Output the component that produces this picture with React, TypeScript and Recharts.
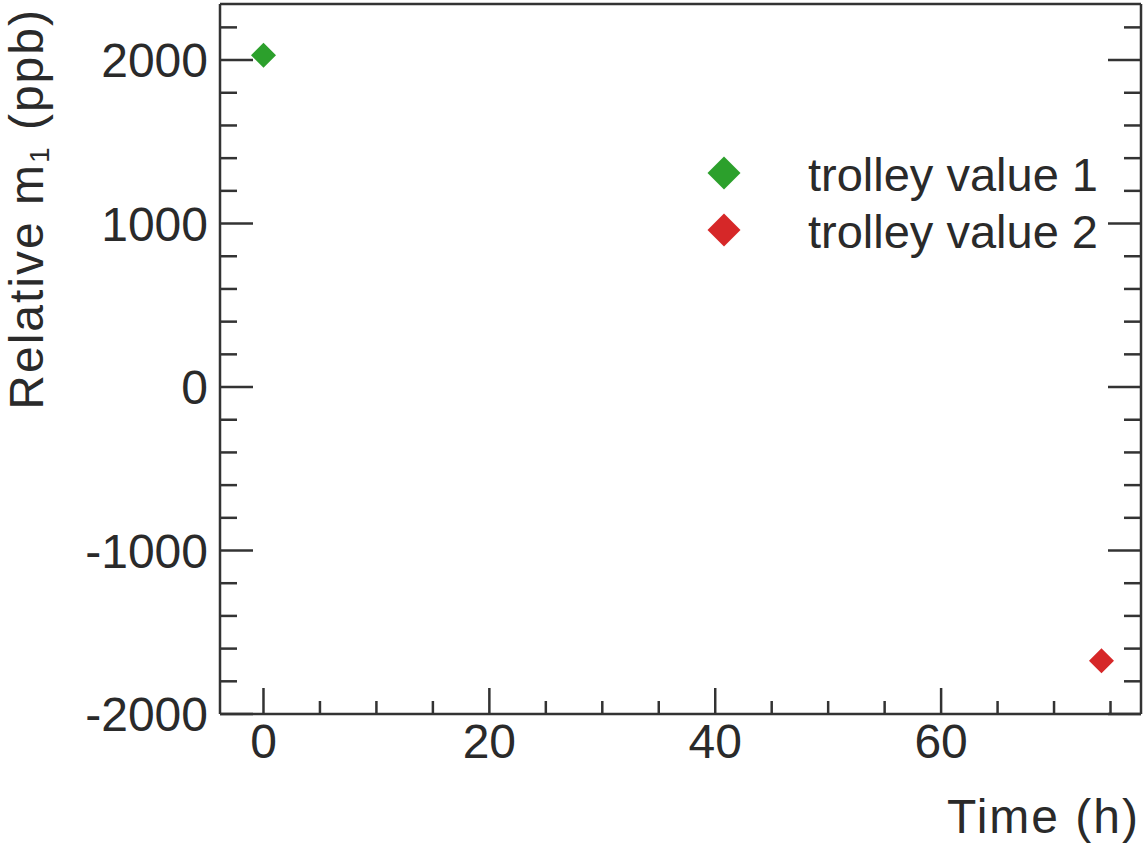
import React from 'react';
import { ScatterChart, Scatter, XAxis, YAxis } from 'recharts';

// measurements: time (h) and relative m1 (ppb)
const TROLLEY_1_TIME = [0];
const TROLLEY_1_M1 = [2030];
const TROLLEY_2_TIME = [74.2];
const TROLLEY_2_M1 = [-1675];

const SERIES_NAMES = ['trolley value 1', 'trolley value 2'];

const X_TICKS = [0, 5, 10, 15, 20, 25, 30, 35, 40, 45, 50, 55, 60, 65, 70, 75];
const X_LABELS = [0, 20, 40, 60];
const Y_TICKS = [
  -2000, -1800, -1600, -1400, -1200, -1000, -800, -600, -400, -200,
  0, 200, 400, 600, 800, 1000, 1200, 1400, 1600, 1800, 2000, 2200,
];
const Y_LABELS = [-2000, -1000, 0, 1000, 2000];

const X_DOMAIN = [-3.85, 77.7];
const Y_DOMAIN = [-2000, 2343];

const GREEN = '#2ca02c';
const RED = '#d62728';
const INK = '#333333';
const TEXT = '#2a2a2a';
const FONT = '"Liberation Sans", Arial, Helvetica, sans-serif';
const TICK_FONT = 48;
const TITLE_FONT = 48;

const trolley1 = TROLLEY_1_TIME.map((t, i) => ({ t, m1: TROLLEY_1_M1[i] }));
const trolley2 = TROLLEY_2_TIME.map((t, i) => ({ t, m1: TROLLEY_2_M1[i] }));

const diamond = (color: string, r: number) => (props: any) => {
  const { cx, cy } = props;
  return (
    <polygon
      points={`${cx},${cy - r} ${cx + r},${cy} ${cx},${cy + r} ${cx - r},${cy}`}
      fill={color}
    />
  );
};

// ticks point inward, majors are longer and carry the labels
const BottomTick = (props: any) => {
  const { x, y, payload } = props;
  const major = X_LABELS.includes(payload.value);
  return (
    <g>
      <line x1={x} x2={x} y1={y} y2={y - (major ? 26 : 13)} stroke={INK} strokeWidth={2.5} />
      {major && (
        <text x={x} y={y + 44} textAnchor="middle" fill={TEXT} fontSize={TICK_FONT} fontFamily={FONT}>
          {payload.value}
        </text>
      )}
    </g>
  );
};

const TopTick = (props: any) => {
  const { x, y, payload } = props;
  const major = X_LABELS.includes(payload.value);
  return <line x1={x} x2={x} y1={y} y2={y + (major ? 26 : 13)} stroke={INK} strokeWidth={2.5} />;
};

const LeftTick = (props: any) => {
  const { x, y, payload } = props;
  const major = Y_LABELS.includes(payload.value);
  return (
    <g>
      <line x1={x} x2={x + (major ? 33 : 17)} y1={y} y2={y} stroke={INK} strokeWidth={2.5} />
      {major && (
        <text x={x - 12} y={y + 17} textAnchor="end" fill={TEXT} fontSize={TICK_FONT} fontFamily={FONT}>
          {payload.value}
        </text>
      )}
    </g>
  );
};

const RightTick = (props: any) => {
  const { x, y, payload } = props;
  const major = Y_LABELS.includes(payload.value);
  return <line x1={x} x2={x - (major ? 33 : 17)} y1={y} y2={y} stroke={INK} strokeWidth={2.5} />;
};

const LegendBox = () => (
  <svg width={430} height={120} style={{ display: 'block' }}>
    {[GREEN, RED].map((c, i) => {
      const cy = 28 + i * 57;
      const r = 16.5;
      return (
        <g key={SERIES_NAMES[i]}>
          <polygon points={`24,${cy - r} ${24 + r},${cy} 24,${cy + r} ${24 - r},${cy}`} fill={c} />
          <text x={108} y={cy + 18} fill={TEXT} fontSize={47} fontFamily={FONT}>
            {SERIES_NAMES[i]}
          </text>
        </g>
      );
    })}
  </svg>
);

export default function App() {
  const axisLine = { stroke: INK, strokeWidth: 2.5 };
  return (
    <div style={{ position: 'absolute', left: 0, top: 0, width: 1145, height: 846, background: '#fff' }}>
      <ScatterChart width={1145} height={846} margin={{ top: 0, right: 0, bottom: 0, left: 0 }}>
        <XAxis
          xAxisId="bottom"
          type="number"
          dataKey="t"
          orientation="bottom"
          domain={X_DOMAIN}
          ticks={X_TICKS}
          interval={0}
          allowDataOverflow
          height={132}
          tickSize={0}
          tickMargin={0}
          tickLine={false}
          axisLine={axisLine}
          tick={<BottomTick />}
          label={{
            content: () => (
              <text
                x={1140}
                y={833}
                textAnchor="end"
                fill={TEXT}
                fontSize={TITLE_FONT}
                letterSpacing={2}
                fontFamily={FONT}
              >
                Time (h)
              </text>
            ),
          }}
        />
        <XAxis
          xAxisId="top"
          type="number"
          orientation="top"
          domain={X_DOMAIN}
          ticks={X_TICKS}
          interval={0}
          allowDataOverflow
          height={4}
          tickSize={0}
          tickMargin={0}
          tickLine={false}
          axisLine={axisLine}
          tick={<TopTick />}
        />
        <YAxis
          yAxisId="left"
          type="number"
          dataKey="m1"
          orientation="left"
          domain={Y_DOMAIN}
          ticks={Y_TICKS}
          interval={0}
          allowDataOverflow
          width={220}
          tickSize={0}
          tickMargin={0}
          tickLine={false}
          axisLine={axisLine}
          tick={<LeftTick />}
          label={{
            content: () => (
              <text
                x={43}
                y={8}
                transform="rotate(-90, 43, 8)"
                textAnchor="end"
                fill={TEXT}
                fontSize={TITLE_FONT}
                letterSpacing={2}
                fontFamily={FONT}
              >
                Relative m
                <tspan fontSize={28} dy={6}>1</tspan>
                <tspan dy={-6}> (ppb)</tspan>
              </text>
            ),
          }}
        />
        <YAxis
          yAxisId="right"
          type="number"
          orientation="right"
          domain={Y_DOMAIN}
          ticks={Y_TICKS}
          interval={0}
          allowDataOverflow
          width={4}
          tickSize={0}
          tickMargin={0}
          tickLine={false}
          axisLine={axisLine}
          tick={<RightTick />}
        />
        <Scatter
          name={SERIES_NAMES[0]}
          data={trolley1}
          xAxisId="bottom"
          yAxisId="left"
          shape={diamond(GREEN, 12.5)}
          isAnimationActive={false}
        />
        <Scatter
          name={SERIES_NAMES[1]}
          data={trolley2}
          xAxisId="bottom"
          yAxisId="left"
          shape={diamond(RED, 12.5)}
          isAnimationActive={false}
        />
      </ScatterChart>
      <div style={{ position: 'absolute', left: 700, top: 145 }}>
        <LegendBox />
      </div>
    </div>
  );
}
